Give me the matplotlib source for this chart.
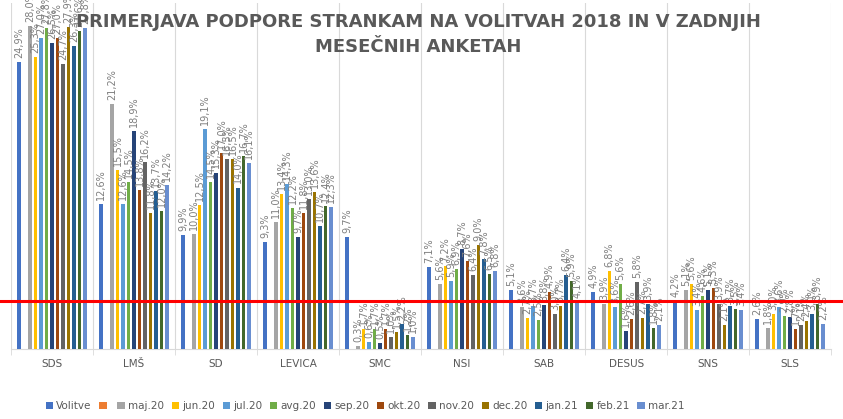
import matplotlib
matplotlib.use('Agg')
import matplotlib.pyplot as plt
import numpy as np

parties = ['SDS', 'LMŠ', 'SD', 'LEVICA', 'SMC', 'NSI', 'SAB', 'DESUS', 'SNS', 'SLS']
series_names = ['Volitve', '', 'maj.20', 'jun.20', 'jul.20', 'avg.20', 'sep.20',
                'okt.20', 'nov.20', 'dec.20', 'jan.21', 'feb.21', 'mar.21']

volitve = [24.9, 12.6, 9.9, 9.3, 9.7, 7.1, 5.1, 4.9, 4.2, 2.6]
empty = [np.nan] * 10   # the unnamed orange series has no values
maj20 = [28.0, 21.2, 10.0, 11.0, 0.3, 5.6, 3.6, 3.9, 5.1, 1.8]
jun20 = [25.3, 15.5, 12.5, 13.4, 1.7, 7.2, 2.7, 6.8, 5.6, 3.0]
jul20 = [27.0, 12.6, 19.1, 14.3, 0.6, 5.9, 3.7, 3.6, 3.4, 3.6]
avg20 = [27.8, 14.5, 14.5, 12.2, 1.7, 6.9, 2.5, 5.6, 4.6, 2.9]
sep20 = [26.5, 18.9, 15.3, 9.7, 0.5, 8.7, 3.8, 1.6, 5.1, 2.8]
okt20 = [27.0, 13.8, 17.0, 11.8, 1.7, 7.6, 4.9, 2.6, 5.3, 1.7]
nov20 = [24.7, 16.2, 16.5, 13.0, 1.0, 6.4, 3.0, 5.8, 3.9, 2.1]
dec20 = [27.9, 11.8, 16.5, 13.6, 1.5, 9.0, 3.7, 2.7, 2.1, 2.4]
jan21 = [26.3, 13.7, 14.0, 10.7, 2.2, 7.8, 6.4, 3.9, 3.7, 3.0]
feb21 = [27.6, 12.0, 16.7, 12.4, 1.2, 6.5, 5.9, 1.8, 3.5, 3.9]
mar21 = [27.8, 14.2, 16.1, 12.3, 1.0, 6.8, 4.1, 2.1, 3.4, 2.2]

threshold = 4.2  # red line drawn across the chart

all_series = [volitve, empty, maj20, jun20, jul20, avg20, sep20,
              okt20, nov20, dec20, jan21, feb21, mar21]
colors = ['#4472C4', '#ED7D31', '#A5A5A5', '#FFC000', '#5B9BD5', '#70AD47', '#264478',
          '#9E480E', '#636363', '#997300', '#255E91', '#43682B', '#698ED0']

fig = plt.figure(figsize=(8.43, 4.19), dpi=100)
ax = fig.add_axes([0.013, 0.167, 0.973, 0.826])

x = np.arange(len(parties))
slot = 0.067
bw = 0.043
handles = []
for j, vals in enumerate(all_series):
    pos = x + (j - 6) * slot
    bars = ax.bar(pos, vals, width=bw, color=colors[j], zorder=3)
    handles.append(bars)
    for xp, v in zip(pos, vals):
        if np.isnan(v):
            continue
        ax.text(xp, v + 0.35, f'{v:.1f}%'.replace('.', ','), rotation=90,
                ha='center', va='bottom', fontsize=7, color='#7F7F7F', zorder=4)

ax.axhline(threshold, xmin=-0.02, xmax=1.02, color='#FF0000', lw=2.2,
           clip_on=False, zorder=5)

ax.set_xlim(-0.5, len(parties) - 0.5)
ax.set_ylim(0, 30)
ax.set_xticks(x)
ax.set_xticklabels(parties, fontsize=7.5, color='#595959')
ax.set_xticks(np.arange(len(parties) + 1) - 0.5, minor=True)
ax.tick_params(axis='x', which='major', length=0, pad=7)
ax.tick_params(axis='x', which='minor', length=4, color='#D9D9D9')
ax.set_yticks([])
ax.grid(axis='x', which='minor', color='#D9D9D9', lw=0.8, zorder=0)
for s in ['left', 'right', 'top']:
    ax.spines[s].set_visible(False)
ax.spines['bottom'].set_color('#D9D9D9')

fig.text(0.496, 0.948, 'PRIMERJAVA PODPORE STRANKAM NA VOLITVAH 2018 IN V ZADNJIH',
         ha='center', va='center', fontsize=13, fontweight='bold', color='#595959')
fig.text(0.496, 0.888, 'MESEČNIH ANKETAH',
         ha='center', va='center', fontsize=13, fontweight='bold', color='#595959')

fig.legend(handles, series_names, loc='center', bbox_to_anchor=(0.433, 0.031),
           ncol=13, frameon=False, fontsize=7.5, handlelength=0.7, handleheight=0.7,
           handletextpad=0.3, columnspacing=0.75, labelcolor='#595959')

fig.savefig('out.png', dpi=100)
